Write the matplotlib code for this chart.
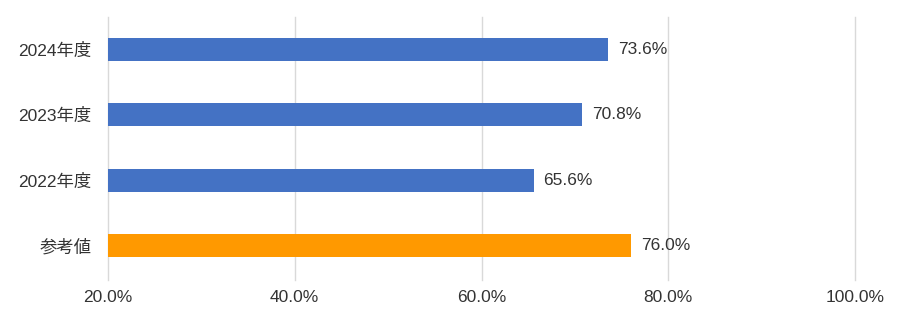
import matplotlib
matplotlib.use('Agg')
import matplotlib.pyplot as plt
from matplotlib.ticker import FuncFormatter

plt.rcParams['font.family'] = ['Liberation Sans', 'Noto Sans CJK JP', 'DejaVu Sans']

categories = ['参考値', '2022年度', '2023年度', '2024年度']
values = [76.0, 65.6, 70.8, 73.6]
colors = ['#FF9900', '#4472C4', '#4472C4', '#4472C4']
xticks = [20, 40, 60, 80, 100]

fig = plt.figure(figsize=(9, 3.26), dpi=100)
ax = fig.add_axes([0.12, 0.141, 0.83, 0.807])

pos = list(range(len(categories)))
ax.barh(pos, [v - 20 for v in values], left=20, height=0.35, color=colors, zorder=3)

for p, v in zip(pos, values):
    ax.text(v + 1.05, p, f'{v:.1f}%', va='center', ha='left', fontsize=12.5, color='#333333', zorder=4)

ax.set_xlim(20, 100)
ax.set_ylim(-0.53, 3.5)
ax.set_xticks(xticks)
ax.xaxis.set_major_formatter(FuncFormatter(lambda x, _: f'{x:.1f}%'))
ax.set_yticks(pos)
ax.set_yticklabels(categories)
ax.tick_params(axis='both', length=0, labelsize=12.5, colors='#333333')
ax.tick_params(axis='x', pad=7)
ax.tick_params(axis='y', pad=12)
ax.grid(axis='x', color='#d9d9d9', linewidth=1, zorder=0)
for gl in ax.get_xgridlines():
    gl.set_clip_on(False)
for s in ax.spines.values():
    s.set_visible(False)

plt.savefig('out.png', dpi=100)
